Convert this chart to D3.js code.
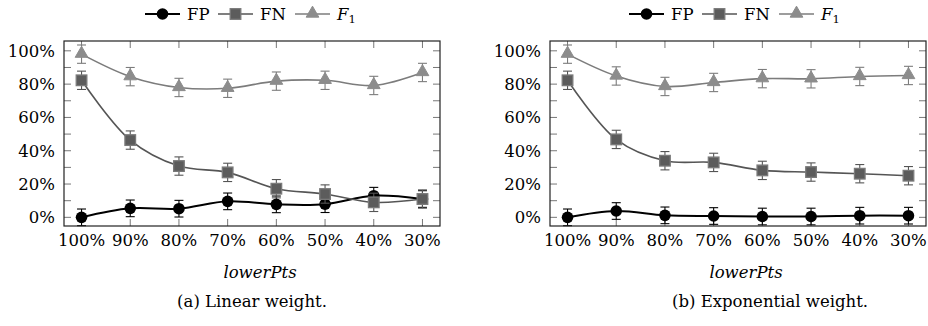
<!DOCTYPE html>
<html>
<head>
<meta charset="utf-8">
<script src="https://cdn.jsdelivr.net/npm/d3@7"></script>
</head>
<body style="margin:0">
<script>
// x categories (lowerPts)
const categories = ['100%', '90%', '80%', '70%', '60%', '50%', '40%', '30%'];
const yTicks = [0, 10, 20, 30, 40, 50, 60, 70, 80, 90, 100];

// (a) linear weight
const linearFP = [0, 5.4, 5.2, 9.6, 7.8, 7.9, 13, 11];
const linearFN = [82.3, 46.4, 30.8, 27, 17.2, 14, 9, 11];
const linearF1 = [98, 84.5, 78, 77.5, 81.8, 82.3, 79.2, 87];

// (b) exponential weight
const expFP = [0, 3.8, 1.2, 0.8, 0.5, 0.5, 1, 1];
const expFN = [82.3, 46.8, 34, 33, 28.2, 27.2, 26.2, 25];
const expF1 = [98, 84.9, 78.6, 81, 83.3, 83.2, 84.6, 85.2];

// error bar half-widths (%)
const errFP = [5, 5, 5, 5, 5, 5, 5, 5];
const errFN = [5.5, 5.5, 5.5, 5.5, 5.5, 5.5, 5.5, 5.5];
const errF1 = [5.5, 5.5, 5.5, 5.5, 5.5, 5.5, 5.5, 5.5];

const panels = [
	{ x: 64, legendX: 251, caption: '(a) Linear weight.', captionX: 252, fp: linearFP, fn: linearFN, f1: linearF1 },
	{ x: 550, legendX: 735, caption: '(b) Exponential weight.', captionX: 770, fp: expFP, fn: expFN, f1: expF1 }
];

const seriesStyle = {
	fp: { line: '#000', fill: '#000', stroke: '#000', marker: 'circle', err: errFP },
	fn: { line: '#555', fill: '#5c5c5c', stroke: '#7a7a7a', marker: 'square', err: errFN },
	f1: { line: '#7c7c7c', fill: '#8c8c8c', stroke: '#8c8c8c', marker: 'triangle', err: errF1 }
};

const width = 928, height = 326;
const boxW = 376, boxTop = 41, boxBottom = 226;
const fontSize = 16.5;
const serif = 'DejaVu Serif';

const svg = d3.select('body').append('svg')
	.attr('width', width)
	.attr('height', height);

const xScale = d3.scalePoint().domain(categories).range([0, boxW]).padding(0.36);
const yScale = d3.scaleLinear().domain([-5.2, 105.9]).range([boxBottom - boxTop, 0]);
const line = d3.line()
	.x((d, i) => xScale(categories[i]))
	.y(d => yScale(d))
	.curve(d3.curveCatmullRom.alpha(0.5));

function drawMarker(g, type, cx, cy, st) {
	if (type === 'circle') {
		g.append('circle').attr('cx', cx).attr('cy', cy).attr('r', 5.8)
			.attr('fill', st.fill);
	} else if (type === 'square') {
		g.append('rect').attr('x', cx - 5.3).attr('y', cy - 5.3).attr('width', 10.6).attr('height', 10.6)
			.attr('fill', st.fill).attr('stroke', st.stroke).attr('stroke-width', 1.3);
	} else {
		const s = d3.symbol().type(d3.symbolTriangle).size(70);
		g.append('path').attr('d', s()).attr('transform', 'translate(' + cx + ',' + (cy - 0.5) + ')')
			.attr('fill', st.fill).attr('stroke', st.stroke).attr('stroke-width', 1);
	}
}

panels.forEach(p => {
	const g = svg.append('g').attr('transform', 'translate(' + p.x + ',' + boxTop + ')');
	const h = boxBottom - boxTop;

	// ticks, inward on all four sides
	const tickG = g.append('g').attr('stroke', '#777').attr('stroke-width', 1);
	categories.forEach(c => {
		const x = xScale(c);
		tickG.append('line').attr('x1', x).attr('x2', x).attr('y1', h).attr('y2', h - 7);
		tickG.append('line').attr('x1', x).attr('x2', x).attr('y1', 0).attr('y2', 7);
	});
	yTicks.forEach(t => {
		const y = yScale(t);
		tickG.append('line').attr('x1', 0).attr('x2', 7).attr('y1', y).attr('y2', y);
		tickG.append('line').attr('x1', boxW).attr('x2', boxW - 7).attr('y1', y).attr('y2', y);
	});

	// x labels
	g.append('g').selectAll('text').data(categories).join('text')
		.attr('x', d => xScale(d))
		.attr('y', h + 20)
		.attr('text-anchor', 'middle')
		.attr('font-family', serif)
		.attr('font-size', fontSize)
		.text(d => d);

	// y labels
	g.append('g').selectAll('text').data(yTicks.filter(t => t % 20 === 0)).join('text')
		.attr('x', -9)
		.attr('y', d => yScale(d) + 6)
		.attr('text-anchor', 'end')
		.attr('font-family', serif)
		.attr('font-size', fontSize)
		.text(d => d + '%');

	// series
	['fp', 'fn', 'f1'].forEach(key => {
		const st = seriesStyle[key];
		const vals = p[key];
		const sg = g.append('g');
		sg.append('path').datum(vals)
			.attr('d', line)
			.attr('fill', 'none')
			.attr('stroke', st.line)
			.attr('stroke-width', key === 'fp' ? 2 : 1.6);
		vals.forEach((v, i) => {
			const x = xScale(categories[i]);
			const y0 = yScale(v - st.err[i]), y1 = yScale(v + st.err[i]);
			const eg = sg.append('g').attr('stroke', st.stroke === '#000' ? '#000' : st.line).attr('stroke-width', 1.1);
			eg.append('line').attr('x1', x).attr('x2', x).attr('y1', y0).attr('y2', y1);
			eg.append('line').attr('x1', x - 4.5).attr('x2', x + 4.5).attr('y1', y0).attr('y2', y0);
			eg.append('line').attr('x1', x - 4.5).attr('x2', x + 4.5).attr('y1', y1).attr('y2', y1);
		});
		vals.forEach((v, i) => drawMarker(sg, st.marker, xScale(categories[i]), yScale(v), st));
	});

	// frame
	g.append('rect').attr('width', boxW).attr('height', h)
		.attr('fill', 'none').attr('stroke', '#222').attr('stroke-width', 1.2);

	// axis label
	g.append('text')
		.attr('x', boxW / 2 + 8)
		.attr('y', 278 - boxTop)
		.attr('text-anchor', 'middle')
		.attr('font-family', serif)
		.attr('font-size', fontSize)
		.attr('font-style', 'italic')
		.text('lowerPts');

	// caption
	svg.append('text')
		.attr('x', p.captionX)
		.attr('y', 307)
		.attr('text-anchor', 'middle')
		.attr('font-family', serif)
		.attr('font-size', fontSize)
		.text(p.caption);

	// legend (text widths estimated)
	const items = [
		{ key: 'fp', label: 'FP', w: 25 },
		{ key: 'fn', label: 'FN', w: 29 },
		{ key: 'f1', label: 'F', w: 20 }
	];
	const total = d3.sum(items, d => 42 + d.w) + 6 * (items.length - 1);
	const legend = svg.append('g')
		.attr('transform', 'translate(' + (p.legendX - total / 2) + ',14)');
	let cx = 0;
	items.forEach(it => {
		const st = seriesStyle[it.key];
		const ig = legend.append('g').attr('transform', 'translate(' + cx + ',0)');
		ig.append('line').attr('x1', 0).attr('x2', 35).attr('y1', 0).attr('y2', 0)
			.attr('stroke', st.line).attr('stroke-width', it.key === 'fp' ? 2 : 1.6);
		drawMarker(ig, st.marker, 17.5, 0, st);
		const t = ig.append('text').attr('x', 42).attr('y', 6)
			.attr('font-family', serif).attr('font-size', fontSize);
		if (it.key === 'f1') {
			t.append('tspan').attr('font-style', 'italic').text('F');
			t.append('tspan').attr('font-size', 11.5).attr('dy', 3).text('1');
		} else {
			t.text(it.label);
		}
		cx += 42 + it.w + 6;
	});
});
</script>
</body>
</html>
